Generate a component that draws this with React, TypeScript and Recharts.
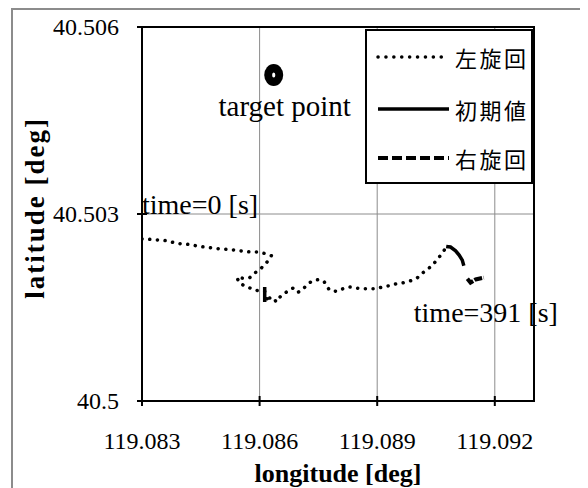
import React from 'react';
import {
  ComposedChart,
  Line,
  Scatter,
  XAxis,
  YAxis,
  CartesianGrid,
  ReferenceArea,
  ReferenceDot,
  Legend,
} from 'recharts';

// ---------- data ----------
const seriesNames = ['左旋回', '初期値', '右旋回'];

const leftTurn = [
  { lon: 119.083, lat: 40.5026 },
  { lon: 119.08329, lat: 40.50259 },
  { lon: 119.08348, lat: 40.50258 },
  { lon: 119.08367, lat: 40.50257 },
  { lon: 119.08386, lat: 40.50253 },
  { lon: 119.08405, lat: 40.50252 },
  { lon: 119.08425, lat: 40.50251 },
  { lon: 119.08444, lat: 40.50248 },
  { lon: 119.08463, lat: 40.50247 },
  { lon: 119.08482, lat: 40.50245 },
  { lon: 119.08503, lat: 40.50244 },
  { lon: 119.08522, lat: 40.50243 },
  { lon: 119.08541, lat: 40.50242 },
  { lon: 119.0856, lat: 40.5024 },
  { lon: 119.0858, lat: 40.50239 },
  { lon: 119.08598, lat: 40.50239 },
  { lon: 119.08617, lat: 40.50236 },
  { lon: 119.0863, lat: 40.50233 },
  { lon: 119.08618, lat: 40.50222 },
  { lon: 119.08604, lat: 40.50213 },
  { lon: 119.08589, lat: 40.50206 },
  { lon: 119.08575, lat: 40.50198 },
  { lon: 119.08558, lat: 40.50197 },
  { lon: 119.08542, lat: 40.50198 },
  { lon: 119.08549, lat: 40.50189 },
  { lon: 119.08561, lat: 40.50185 },
  { lon: 119.08573, lat: 40.50182 },
  { lon: 119.08586, lat: 40.50178 },
  { lon: 119.08599, lat: 40.50177 },
  { lon: 119.08613, lat: 40.50176 },
  { lon: 119.08621, lat: 40.50159 },
  { lon: 119.08625, lat: 40.50165 },
  { lon: 119.08636, lat: 40.50166 },
  { lon: 119.08642, lat: 40.50159 },
  { lon: 119.08655, lat: 40.50169 },
  { lon: 119.08669, lat: 40.50175 },
  { lon: 119.08685, lat: 40.50181 },
  { lon: 119.08697, lat: 40.50174 },
  { lon: 119.0871, lat: 40.50179 },
  { lon: 119.08723, lat: 40.50188 },
  { lon: 119.08736, lat: 40.50193 },
  { lon: 119.08753, lat: 40.50195 },
  { lon: 119.08765, lat: 40.50191 },
  { lon: 119.08778, lat: 40.50178 },
  { lon: 119.08795, lat: 40.50176 },
  { lon: 119.08812, lat: 40.5018 },
  { lon: 119.08829, lat: 40.50183 },
  { lon: 119.0885, lat: 40.50181 },
  { lon: 119.08867, lat: 40.5018 },
  { lon: 119.08884, lat: 40.5018 },
  { lon: 119.08897, lat: 40.5018 },
  { lon: 119.08914, lat: 40.50183 },
  { lon: 119.08931, lat: 40.50185 },
  { lon: 119.08948, lat: 40.50188 },
  { lon: 119.08969, lat: 40.5019 },
  { lon: 119.08986, lat: 40.50193 },
  { lon: 119.09003, lat: 40.50198 },
  { lon: 119.09015, lat: 40.50205 },
  { lon: 119.09028, lat: 40.50211 },
  { lon: 119.09041, lat: 40.50218 },
  { lon: 119.09053, lat: 40.50227 },
  { lon: 119.09066, lat: 40.50237 },
  { lon: 119.09076, lat: 40.50247 },
];

const initialValue = [
  { lon: 119.08613, lat: 40.50183 },
  { lon: 119.08613, lat: 40.50159 },
  { lon: 119.08613, lat: null },
  { lon: 119.09076, lat: 40.50248 },
  { lon: 119.09087, lat: 40.50247 },
  { lon: 119.091, lat: 40.50241 },
  { lon: 119.09109, lat: 40.50234 },
  { lon: 119.09117, lat: 40.50226 },
  { lon: 119.09121, lat: 40.50217 },
];

const rightTurn = [
  { lon: 119.0913, lat: 40.50196 },
  { lon: 119.09138, lat: 40.5019 },
  { lon: 119.09151, lat: 40.50195 },
  { lon: 119.09172, lat: 40.50198 },
];

const targetPoint = [{ lon: 119.08636, lat: 40.50523 }];

const xTicks = [119.083, 119.086, 119.089, 119.092];
const yTicks = [40.5, 40.503, 40.506];
const xDomain = [119.083, 119.093];
const yDomain = [40.5, 40.506];

// ---------- styles ----------
const serif = '"Liberation Serif", "Times New Roman", serif';
const cjk = '"Noto Sans CJK JP", sans-serif';
const gridGray = '#8c8c8c';

const lineStyles = [
  { strokeWidth: 3.5, strokeDasharray: '0.1 7.6', strokeLinecap: 'round' as const },
  { strokeWidth: 3.5, strokeDasharray: undefined, strokeLinecap: 'butt' as const },
  { strokeWidth: 4, strokeDasharray: '8 1.5', strokeLinecap: 'butt' as const },
];

const XTick = (props: any) => {
  const { x, y, payload } = props;
  return (
    <g>
      <line x1={x} x2={x} y1={y - 5} y2={y + 5} stroke="#000" strokeWidth={2} />
      <text
        x={x}
        y={y + 48}
        textAnchor="middle"
        fontSize={24}
        fontFamily={serif}
        style={{ fontFamily: serif, fontSize: 24 }}
        fill="#000"
      >
        {payload.value}
      </text>
    </g>
  );
};

const YTick = (props: any) => {
  const { x, y, payload } = props;
  return (
    <g>
      <line x1={x - 5} x2={x + 5} y1={y} y2={y} stroke="#000" strokeWidth={2} />
      <text
        x={x - 23}
        y={y}
        dy="0.35em"
        textAnchor="end"
        fontSize={24}
        fontFamily={serif}
        style={{ fontFamily: serif, fontSize: 24 }}
        fill="#000"
      >
        {payload.value}
      </text>
    </g>
  );
};

const LegendBox = () => (
  <div
    style={{
      width: 164,
      height: 151,
      border: '2px solid #000',
      background: '#fff',
      position: 'relative',
    }}
  >
    {seriesNames.map((name, i) => (
      <div
        key={name}
        style={{
          position: 'absolute',
          left: 0,
          top: [26, 78, 127][i] - 14,
          height: 28,
          display: 'flex',
          alignItems: 'center',
        }}
      >
        <svg width={90} height={28} style={{ display: 'block' }}>
          <line
            x1={11}
            x2={82}
            y1={14}
            y2={14}
            stroke="#000"
            strokeWidth={lineStyles[i].strokeWidth}
            strokeDasharray={i === 0 ? '0.1 7.8' : i === 2 ? '10 4' : undefined}
            strokeLinecap={lineStyles[i].strokeLinecap}
          />
        </svg>
        <span
          style={{
            fontFamily: cjk,
            fontSize: 22,
            letterSpacing: 2.5,
            color: '#000',
            marginLeft: -2,
            lineHeight: '28px',
          }}
        >
          {name}
        </span>
      </div>
    ))}
  </div>
);

const TargetShape = (props: any) => {
  const { cx, cy } = props;
  return (
    <g>
      <ellipse cx={cx} cy={cy} rx={9.5} ry={11} fill="#000" />
      <ellipse cx={cx} cy={cy} rx={1.6} ry={2.6} fill="#fff" />
    </g>
  );
};

const seriesData = [leftTurn, initialValue, rightTurn];

export default function App() {
  return (
    <div style={{ position: 'relative', width: 580, height: 480, overflow: 'hidden', background: '#fff' }}>
      <div
        style={{
          position: 'absolute',
          left: 3,
          top: 0,
          width: 700,
          height: 700,
          borderTop: `2px solid ${gridGray}`,
          borderLeft: `2px solid ${gridGray}`,
        }}
      />
      <div style={{ position: 'absolute', left: 0, top: 0 }}>
        <ComposedChart width={580} height={480} margin={{ top: 19, right: 54, bottom: 0, left: 0 }}>
          <CartesianGrid stroke={gridGray} strokeWidth={1} />
          <XAxis
            type="number"
            dataKey="lon"
            domain={xDomain}
            ticks={xTicks}
            interval={0}
            allowDataOverflow
            height={87}
            tickSize={0}
            tickMargin={0}
            tickLine={false}
            axisLine={{ stroke: '#000', strokeWidth: 2 }}
            tick={<XTick />}
            label={{
              content: (p: any) => {
                const vb = p.viewBox;
                return (
                  <text
                    x={vb.x + vb.width / 2}
                    y={vb.y + 81}
                    textAnchor="middle"
                    fontSize={26}
                    fontWeight="bold"
                    fontFamily={serif}
                    fill="#000"
                  >
                    longitude [deg]
                  </text>
                );
              },
            }}
          />
          <YAxis
            type="number"
            dataKey="lat"
            domain={yDomain}
            ticks={yTicks}
            interval={0}
            allowDataOverflow
            width={134}
            tickSize={0}
            tickMargin={0}
            tickLine={false}
            axisLine={{ stroke: '#000', strokeWidth: 2 }}
            tick={<YTick />}
            label={{
              content: () => {
                const cx = 27;
                const cy = 200;
                return (
                  <text
                    x={cx}
                    y={cy}
                    transform={`rotate(-90 ${cx} ${cy})`}
                    textAnchor="middle"
                    dy="0.35em"
                    fontSize={27}
                    fontWeight="bold"
                    letterSpacing={2}
                    fontFamily={serif}
                    fill="#000"
                  >
                    latitude [deg]
                  </text>
                );
              },
            }}
          />
          <ReferenceArea
            x1={xDomain[0]}
            x2={xDomain[1]}
            y1={yDomain[0]}
            y2={yDomain[1]}
            fill="none"
            fillOpacity={0}
            stroke="#000"
            strokeWidth={2}
            ifOverflow="visible"
          />
          {seriesData.map((d, i) => (
            <Line
              key={seriesNames[i]}
              name={seriesNames[i]}
              data={d}
              dataKey="lat"
              type="linear"
              stroke="#000"
              strokeWidth={lineStyles[i].strokeWidth}
              strokeDasharray={lineStyles[i].strokeDasharray}
              strokeLinecap={lineStyles[i].strokeLinecap}
              dot={false}
              activeDot={false}
              connectNulls={false}
              isAnimationActive={false}
            />
          ))}
          <Scatter data={targetPoint} dataKey="lat" shape={<TargetShape />} isAnimationActive={false} legendType="none" />
          <ReferenceDot
            x={targetPoint[0].lon}
            y={targetPoint[0].lat}
            r={0}
            fill="none"
            stroke="none"
            label={{
              content: (p: any) => {
                const vb = p.viewBox;
                return (
                  <text x={vb.x + 11} y={vb.y + 41} textAnchor="middle" fontSize={29} fontFamily={serif} fill="#000">
                    target point
                  </text>
                );
              },
            }}
          />
          <ReferenceDot
            x={leftTurn[0].lon}
            y={leftTurn[0].lat}
            r={0}
            fill="none"
            stroke="none"
            label={{
              content: (p: any) => {
                const vb = p.viewBox;
                return (
                  <text x={vb.x} y={vb.y - 25} textAnchor="start" fontSize={28} fontFamily={serif} fill="#000">
                    time=0 [s]
                  </text>
                );
              },
            }}
          />
          <ReferenceDot
            x={rightTurn[rightTurn.length - 1].lon}
            y={rightTurn[rightTurn.length - 1].lat}
            r={0}
            fill="none"
            stroke="none"
            label={{
              content: (p: any) => {
                const vb = p.viewBox;
                return (
                  <text x={vb.x - 70} y={vb.y + 44} textAnchor="start" fontSize={28} fontFamily={serif} fill="#000">
                    time=391 [s]
                  </text>
                );
              },
            }}
          />
          <Legend
            layout="horizontal"
            verticalAlign="middle"
            align="center"
            wrapperStyle={{ top: 21, left: 357, width: 'auto', height: 'auto' }}
            content={() => <LegendBox />}
          />
        </ComposedChart>
      </div>
    </div>
  );
}
